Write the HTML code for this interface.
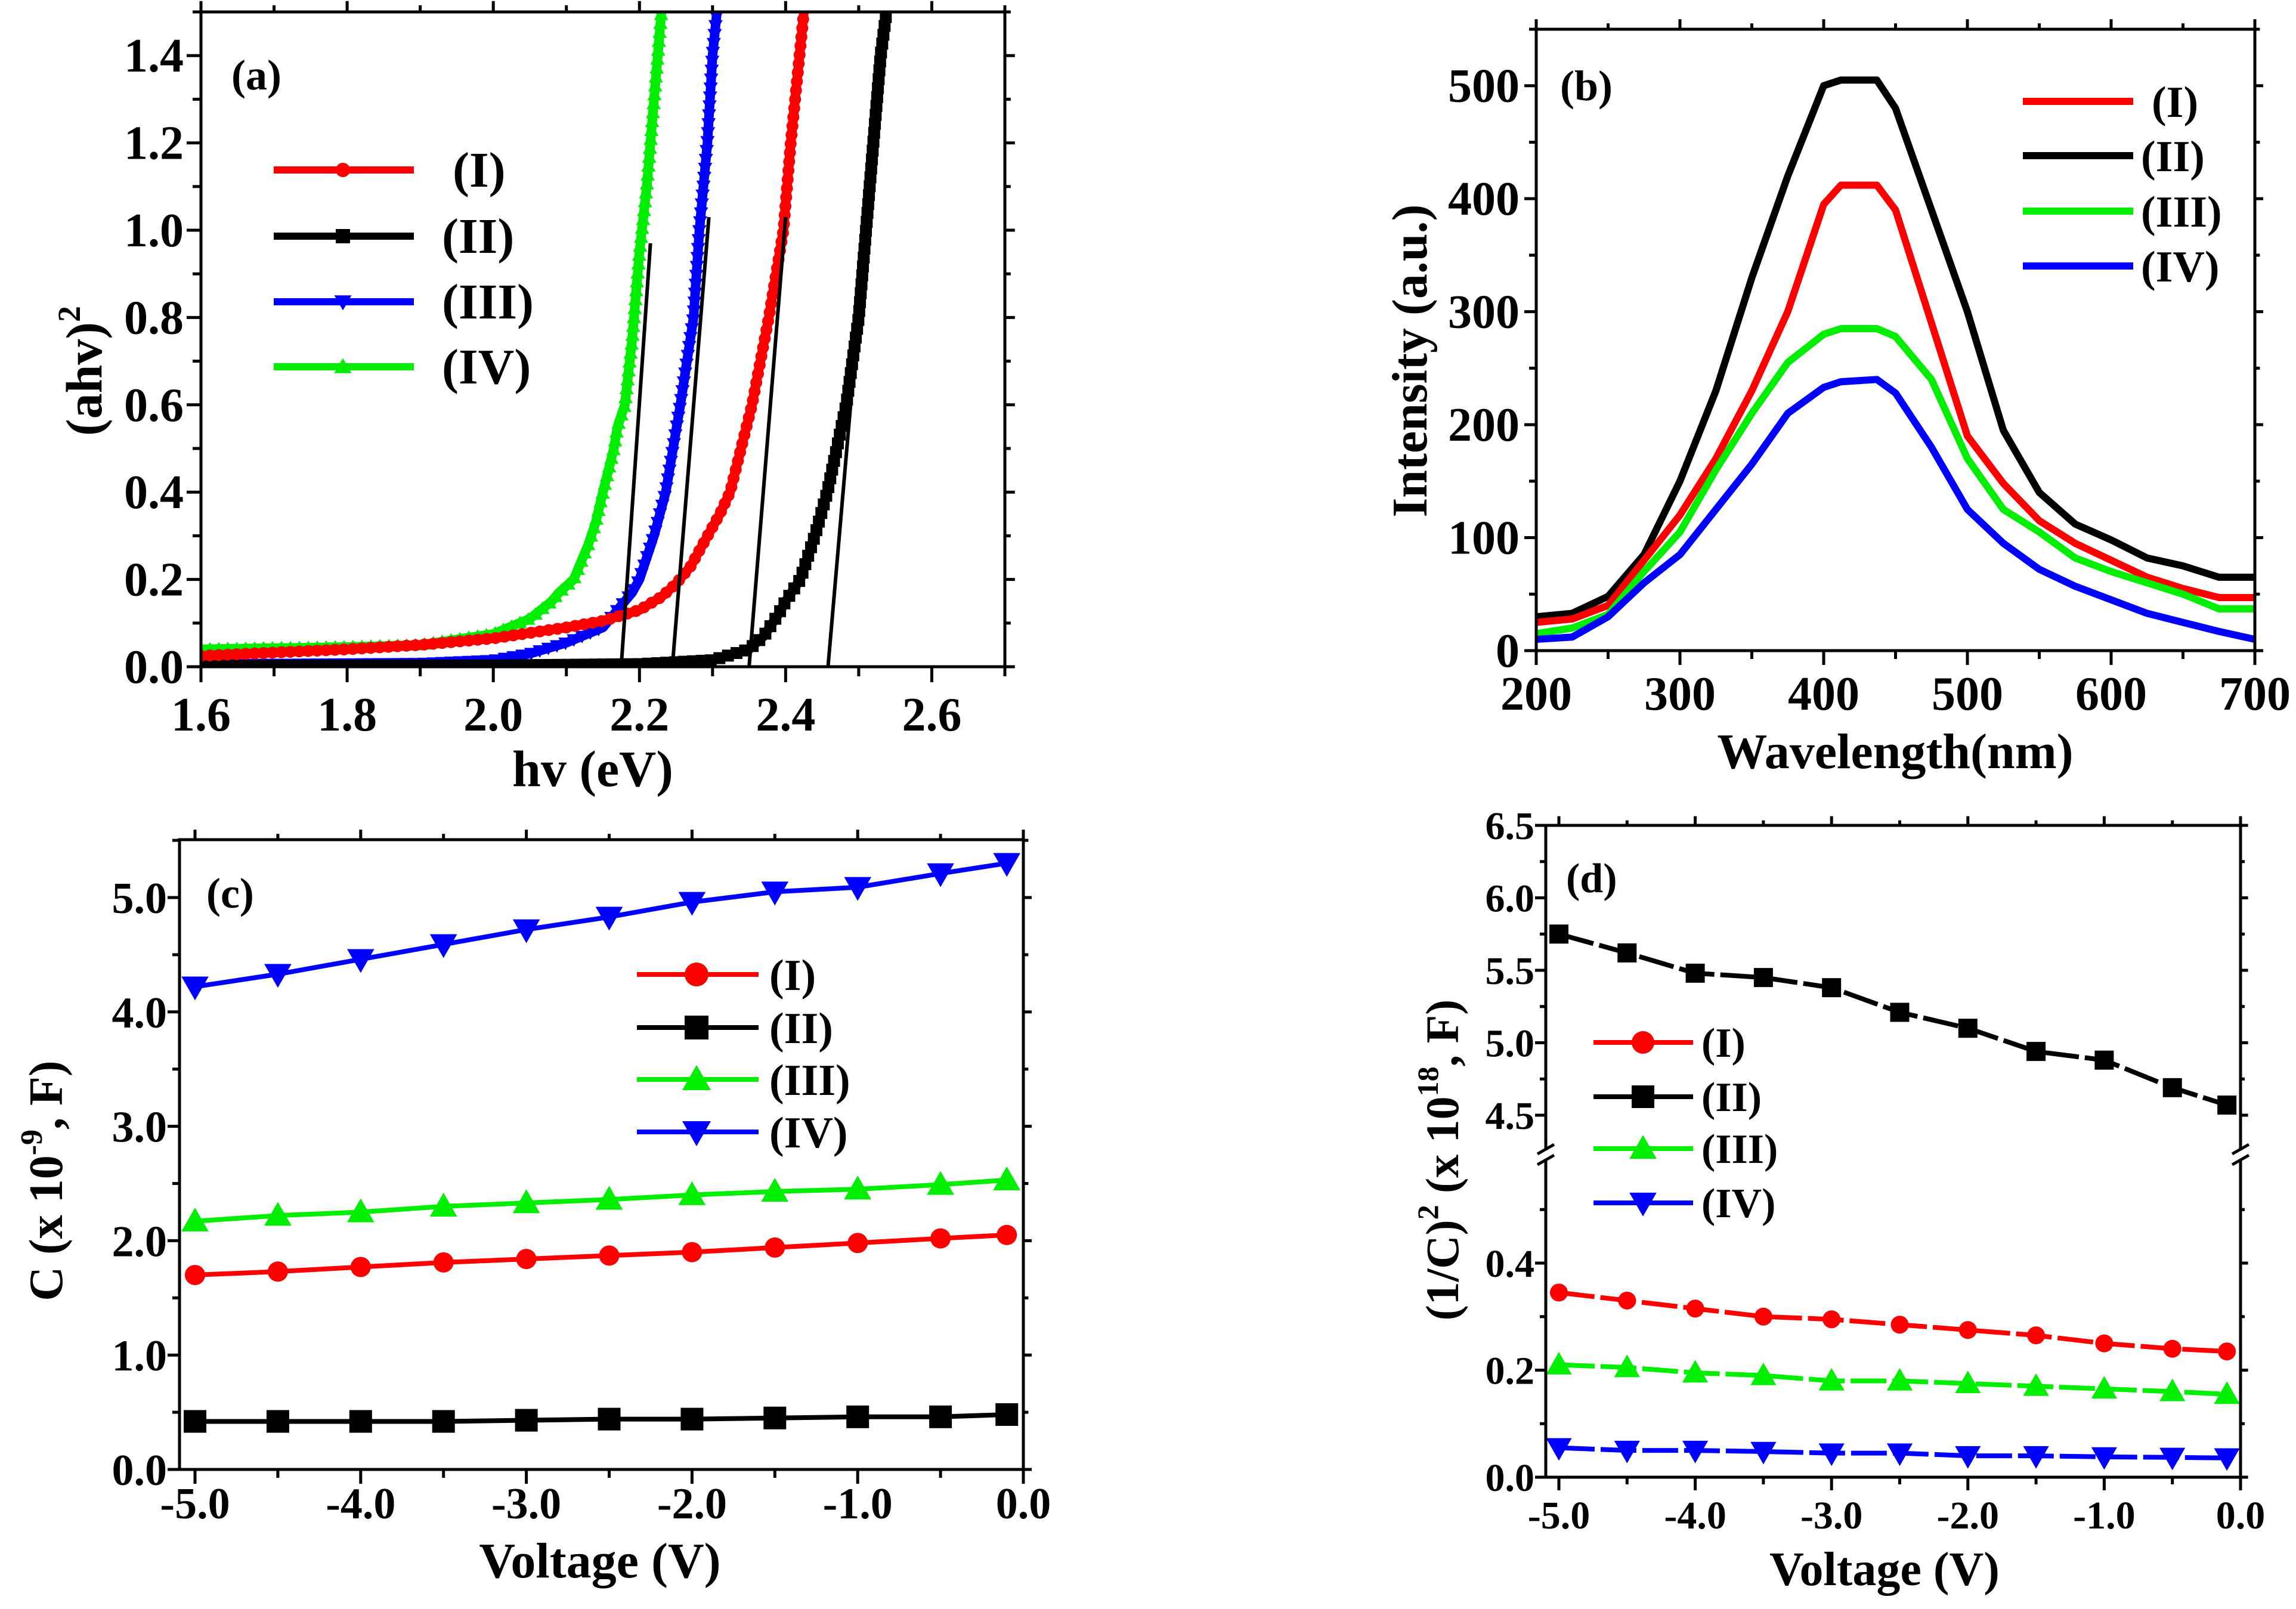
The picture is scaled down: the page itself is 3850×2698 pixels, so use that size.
<!DOCTYPE html>
<html><head><meta charset="utf-8"><style>
html,body{margin:0;padding:0;background:#fff;}
svg{display:block;}
text{font-family:"Liberation Serif",serif;font-weight:bold;fill:#000;}
</style></head><body>
<svg id="root" xmlns="http://www.w3.org/2000/svg" width="3850" height="2698" viewBox="0 0 3850 2698">
<rect x="0" y="0" width="3850" height="2698" fill="#fff"/>
</svg>
<script>
// ---------- Panel (a) data ----------
const aIx=[1.6,1.8,1.9,2.0,2.1,2.15,2.2,2.23,2.25,2.27,2.28,2.3,2.31,2.324,2.354,2.377,2.397,2.407,2.419,2.425];
const aIy=[0.025,0.04,0.05,0.065,0.09,0.105,0.13,0.16,0.19,0.23,0.26,0.32,0.35,0.4,0.6,0.8,1.0,1.2,1.4,1.5];
const aIIx=[1.6,2.0,2.2,2.3,2.35,2.37,2.39,2.40,2.42,2.44,2.457,2.483,2.5,2.51,2.52,2.53,2.538];
const aIIy=[0.002,0.003,0.006,0.015,0.04,0.07,0.12,0.15,0.2,0.3,0.4,0.6,0.8,1.0,1.2,1.4,1.5];
const aIIIx=[1.6,1.9,2.0,2.05,2.1,2.15,2.17,2.19,2.2,2.22,2.236,2.256,2.274,2.282,2.293,2.3,2.306];
const aIIIy=[0.005,0.008,0.015,0.03,0.055,0.09,0.13,0.17,0.2,0.3,0.4,0.6,0.8,1.0,1.2,1.4,1.5];
const aIVx=[1.6,1.8,1.9,2.0,2.05,2.08,2.09,2.11,2.12,2.13,2.14,2.15,2.165,2.17,2.18,2.19,2.2,2.21,2.22,2.23];
const aIVy=[0.04,0.045,0.05,0.075,0.11,0.15,0.17,0.2,0.24,0.28,0.33,0.4,0.5,0.55,0.6,0.75,0.95,1.1,1.3,1.5];
const aFitX0=[2.175,2.245,2.35,2.458];
const aFitY0=[0,0,0,0];
const aFitX1=[2.215,2.295,2.40,2.525];
const aFitY1=[0.97,1.03,1.03,1.3];
const aXTicks=["1.6","1.8","2.0","2.2","2.4","2.6"];
const aYTicks=["0.0","0.2","0.4","0.6","0.8","1.0","1.2","1.4"];
// ---------- Panel (b) data ----------
const bX=[200,225,250,275,300,325,350,375,400,412,437,450,475,500,525,550,575,600,625,650,675,700];
const bI=[25,28,40,80,120,170,230,300,395,412,412,390,290,190,148,115,95,80,65,55,47,47];
const bII=[30,33,48,85,150,230,330,420,500,505,505,480,390,300,195,140,112,98,82,75,65,65];
const bIII=[15,20,32,70,105,160,210,255,280,285,285,278,240,170,125,105,82,70,60,50,37,37];
const bIV=[10,12,30,60,85,125,165,210,233,238,240,228,180,125,95,72,57,45,33,25,17,10];
const bXTicks=["200","300","400","500","600","700"];
const bYTicks=["0","100","200","300","400","500"];
// ---------- Panel (c) data ----------
const cV=[-5,-4.5,-4,-3.5,-3,-2.5,-2,-1.5,-1,-0.5,-0.1];
const cI=[1.70,1.73,1.77,1.81,1.84,1.87,1.90,1.94,1.98,2.02,2.05];
const cII=[0.42,0.42,0.42,0.42,0.43,0.44,0.44,0.45,0.46,0.46,0.48];
const cIII=[2.17,2.22,2.25,2.30,2.33,2.36,2.40,2.43,2.45,2.49,2.53];
const cIV=[4.22,4.33,4.46,4.59,4.72,4.83,4.96,5.05,5.09,5.21,5.30];
const cXTicks=["-5.0","-4.0","-3.0","-2.0","-1.0","0.0"];
const cYTicks=["0.0","1.0","2.0","3.0","4.0","5.0"];
// ---------- Panel (d) data ----------
const dV=[-5,-4.5,-4,-3.5,-3,-2.5,-2,-1.5,-1,-0.5,-0.1];
const dI=[0.345,0.33,0.315,0.30,0.295,0.285,0.275,0.265,0.25,0.24,0.235];
const dII=[5.75,5.62,5.48,5.45,5.38,5.21,5.10,4.94,4.88,4.69,4.57];
const dIII=[0.21,0.205,0.195,0.19,0.18,0.18,0.175,0.17,0.165,0.16,0.155];
const dIV=[0.055,0.05,0.05,0.048,0.045,0.045,0.04,0.04,0.038,0.037,0.036];
const dXTicks=["-5.0","-4.0","-3.0","-2.0","-1.0","0.0"];
const dYLowTicks=["0.0","0.2","0.4"];
const dYHighTicks=["4.5","5.0","5.5","6.0","6.5"];

const NS='http://www.w3.org/2000/svg';
const root=document.getElementById('root');
function mk(tag,attrs,parent){const e=document.createElementNS(NS,tag);for(const k in attrs)e.setAttribute(k,attrs[k]);(parent||root).appendChild(e);return e;}
function lin(d0,d1,p0,p1){return v=>p0+(v-d0)*(p1-p0)/(d1-d0);}
function txt(s,x,y,size,anchor,parent){const t=mk('text',{x:x,y:y,'font-size':size,'text-anchor':anchor||'middle'},parent);t.textContent=s;return t;}
function marker(shape,x,y,s,color,parent){
  let e;
  if(shape==='circle')e=mk('circle',{cx:x,cy:y,r:s/2,fill:color},parent);
  else if(shape==='square')e=mk('rect',{x:x-s/2,y:y-s/2,width:s,height:s,fill:color},parent);
  else if(shape==='up')e=mk('polygon',{points:`${x},${y-s*0.6} ${x-s*0.6},${y+s*0.45} ${x+s*0.6},${y+s*0.45}`,fill:color},parent);
  else e=mk('polygon',{points:`${x},${y+s*0.6} ${x-s*0.6},${y-s*0.45} ${x+s*0.6},${y-s*0.45}`,fill:color},parent);
  return e;
}
function frame(g,L,T,R,B,sw){mk('rect',{x:L,y:T,width:R-L,height:B-T,fill:'none',stroke:'#000','stroke-width':sw},g);}
function tickX(g,x,B,T,len,sw){mk('line',{x1:x,y1:B,x2:x,y2:B+len,stroke:'#000','stroke-width':sw},g);mk('line',{x1:x,y1:T,x2:x,y2:T-len*0.7,stroke:'#000','stroke-width':sw},g);}
function tickY(g,y,L,R,len,sw){mk('line',{x1:L,y1:y,x2:L-len,y2:y,stroke:'#000','stroke-width':sw},g);mk('line',{x1:R,y1:y,x2:R+len*0.7,y2:y,stroke:'#000','stroke-width':sw},g);}

// ================= Panel (a) =================
(function(){
  const g=mk('g',{});
  
  
  const L=337,R=1685,T=20,B=1118;
  const sx=lin(1.6,2.7,L,R), sy=lin(0,1.5,B,T);
  const clip=mk('clipPath',{id:'clipA'},g);mk('rect',{x:L,y:T,width:R-L,height:B-T},clip);
  const series=[[aIVx,aIVy,'#00ee00','up','iv'],[aIIIx,aIIIy,'#0000ff','down','iii'],[aIIx,aIIy,'#000','square','ii'],[aIx,aIy,'#ff0000','circle','i']];
  const plot=mk('g',{'clip-path':'url(#clipA)'},g);
  series.forEach(s=>{
    const sg=mk('g',{},plot);
    
    
    const pts=s[0].map((x,i)=>sx(x)+','+sy(s[1][i])).join(' ');
    const pl=mk('polyline',{points:pts,fill:'none',stroke:s[2],'stroke-width':16,'stroke-linejoin':'round'},sg);
    const len=pl.getTotalLength();
    for(let d=0;d<=len;d+=15){const p=pl.getPointAtLength(d);marker(s[3],p.x,p.y,20,s[2],sg);}
  });
  aFitX0.forEach((x0,i)=>{
    const f=mk('line',{x1:sx(x0),y1:sy(aFitY0[i]),x2:sx(aFitX1[i]),y2:sy(aFitY1[i]),stroke:'#000','stroke-width':6},plot);
    
    
  });
  frame(g,L,T,R,B,5);
  aXTicks.forEach(t=>{const v=parseFloat(t);tickX(g,sx(v),B,T,26,5);tickX(g,sx(v+0.1),B,T,16,5);
    const e=txt(t,sx(v),1225,80,'middle',g);});
  aYTicks.forEach(t=>{const v=parseFloat(t);tickY(g,sy(v),L,R,24,5);tickY(g,sy(v+0.1),L,R,14,5);
    const e=txt(t,308,sy(v)+27,80,'end',g);});
  const xt=txt('hv (eV)',994,1318,86,'middle',g);
  const yt=mk('text',{x:0,y:0,'font-size':86,'text-anchor':'middle',transform:'translate(170,622) rotate(-90)'},g);
  yt.innerHTML='(ahv)<tspan dy="-36" font-size="54">2</tspan>';
  
  const pl=txt('(a)',388,150,72,'start',g);
  const leg=[['(I)','#ff0000','circle',285,759],['(II)','#000','square',396,741],['(III)','#0000ff','down',506,741],['(IV)','#00ee00','up',615,741]];
  leg.forEach((l,i)=>{const lg=mk('g',{},g);
    
    mk('line',{x1:459,y1:l[3],x2:694,y2:l[3],stroke:l[1],'stroke-width':12},lg);
    marker(l[2],575,l[3],24,l[1],lg);txt(l[0],l[4],l[3]+28,84,'start',lg);});
})();

// ================= Panel (b) =================
(function(){
  const g=mk('g',{});
  
  
  const L=2576,R=3781,T=49,B=1091;
  const sx=lin(200,700,L,R), sy=lin(0,550,B,T);
  const series=[[bII,'#000','ii'],[bI,'#ff0000','i'],[bIII,'#00ee00','iii'],[bIV,'#0000ff','iv']];
  series.forEach(s=>{
    const p=mk('polyline',{points:bX.map((x,i)=>sx(x)+','+sy(s[0][i])).join(' '),fill:'none',stroke:s[1],'stroke-width':12,'stroke-linejoin':'round'},g);
    
  });
  frame(g,L,T,R,B,5);
  bXTicks.forEach(t=>{const v=parseFloat(t);tickX(g,sx(v),B,T,24,5);if(v<700)tickX(g,sx(v+50),B,T,14,5);
    const e=txt(t,sx(v),1190,80,'middle',g);});
  bYTicks.forEach(t=>{const v=parseFloat(t);tickY(g,sy(v),L,R,20,5);tickY(g,sy(v+50),L,R,12,5);
    const e=txt(t,2548,sy(v)+27,80,'end',g);});
  const xt=txt('Wavelength(nm)',3178,1288,84,'middle',g);
  const yt=mk('text',{x:0,y:0,'font-size':84,'text-anchor':'middle',transform:'translate(2392,605) rotate(-90)'},g);
  yt.textContent='Intensity (a.u.)';
  
  const pl=txt('(b)',2616,168,72,'start',g);
  const leg=[['(I)','#ff0000',170,3608],['(II)','#000',261,3590],['(III)','#00ee00',354,3590],['(IV)','#0000ff',446,3590]];
  leg.forEach((l,i)=>{const lg=mk('g',{},g);
    
    mk('line',{x1:3392,y1:l[2],x2:3577,y2:l[2],stroke:l[1],'stroke-width':12},lg);
    txt(l[0],l[3],l[2]+26,74,'start',lg);});
})();

// ================= Panel (c) =================
(function(){
  const g=mk('g',{});
  
  
  const L=301,R=1716,T=1408,B=2464;
  const sx=lin(-5,0,327,1716), sy=lin(0,5,B,1505);
  const series=[[cIV,'#0000ff','down','iv'],[cIII,'#00ee00','up','iii'],[cI,'#ff0000','circle','i'],[cII,'#000','square','ii']];
  series.forEach(s=>{const sg=mk('g',{},g);
    
    mk('polyline',{points:cV.map((x,i)=>sx(x)+','+sy(s[0][i])).join(' '),fill:'none',stroke:s[1],'stroke-width':8},sg);
    cV.forEach((x,i)=>marker(s[2],sx(x),sy(s[0][i]),s[2]==='circle'?34:38,s[1],sg));});
  frame(g,L,T,R,B,5);
  cXTicks.forEach(t=>{const v=parseFloat(t);tickX(g,sx(v),B,T,24,5);if(v<0)tickX(g,sx(v+0.5),B,T,14,5);
    const e=txt(t,sx(v),2546,74,'middle',g);});
  cYTicks.forEach(t=>{const v=parseFloat(t);tickY(g,sy(v),L,R,20,5);tickY(g,sy(v+0.5),L,R,12,5);
    const e=txt(t,280,sy(v)+26,74,'end',g);});
  const xt=txt('Voltage (V)',1006,2645,84,'middle',g);
  const yt=mk('text',{x:0,y:0,'font-size':80,'text-anchor':'middle',transform:'translate(104,1980) rotate(-90)'},g);
  yt.innerHTML='C (x 10<tspan dy="-34" font-size="52">-9</tspan><tspan dy="34">, F)</tspan>';
  
  const pl=txt('(c)',346,1522,72,'start',g);
  const leg=[['(I)','#ff0000','circle',1634],['(II)','#000','square',1723],['(III)','#00ee00','up',1810],['(IV)','#0000ff','down',1898]];
  leg.forEach((l,i)=>{const lg=mk('g',{},g);
    
    mk('line',{x1:1068,y1:l[3],x2:1272,y2:l[3],stroke:l[1],'stroke-width':8},lg);
    marker(l[2],1168,l[3],40,l[1],lg);txt(l[0],1290,l[3]+26,74,'start',lg);});
})();

// ================= Panel (d) =================
(function(){
  const g=mk('g',{});
  
  
  const L=2592,R=3757,T=1384,B=2477,BR=1937;
  const sx=lin(-5,0,2614,3757);
  const syL=lin(0,0.4,B,2118), syH=lin(4.5,6.5,1870,T);
  const low=[[dI,'#ff0000','circle','i'],[dIII,'#00ee00','up','iii'],[dIV,'#0000ff','down','iv']];
  const sgII=mk('g',{},g);
  
  mk('polyline',{points:dV.map((x,i)=>sx(x)+','+syH(dII[i])).join(' '),fill:'none',stroke:'#000','stroke-width':8,'stroke-dasharray':'60 10'},sgII);
  dV.forEach((x,i)=>marker('square',sx(x),syH(dII[i]),32,'#000',sgII));
  low.forEach(s=>{const sg=mk('g',{},g);
    
    mk('polyline',{points:dV.map((x,i)=>sx(x)+','+syL(s[0][i])).join(' '),fill:'none',stroke:s[1],'stroke-width':8,'stroke-dasharray':'60 10'},sg);
    dV.forEach((x,i)=>marker(s[2],sx(x),syL(s[0][i]),s[2]==='circle'?30:36,s[1],sg));});
  const st={stroke:'#000','stroke-width':5};
  mk('line',Object.assign({x1:L,y1:T,x2:R,y2:T},st),g);
  mk('line',Object.assign({x1:L,y1:B,x2:R,y2:B},st),g);
  [L,R].forEach(x=>{mk('line',Object.assign({x1:x,y1:T,x2:x,y2:BR-8},st),g);mk('line',Object.assign({x1:x,y1:BR+8,x2:x,y2:B},st),g);
    mk('line',Object.assign({x1:x-14,y1:BR-2,x2:x+14,y2:BR-18},st),g);mk('line',Object.assign({x1:x-14,y1:BR+16,x2:x+14,y2:BR},st),g);});
  dXTicks.forEach(t=>{const v=parseFloat(t);tickX(g,sx(v),B,T,22,5);if(v<0)tickX(g,sx(v+0.5),B,T,12,5);
    const e=txt(t,sx(v),2563,66,'middle',g);});
  dYLowTicks.forEach(t=>{const v=parseFloat(t);tickY(g,syL(v),L,R,18,5);tickY(g,syL(v+0.1),L,R,10,5);
    const e=txt(t,2573,syL(v)+23,66,'end',g);});
  dYHighTicks.forEach(t=>{const v=parseFloat(t);tickY(g,syH(v),L,R,18,5);if(v<6.5)tickY(g,syH(v+0.25),L,R,10,5);
    const e=txt(t,2573,syH(v)+23,66,'end',g);});
  const xt=txt('Voltage (V)',3160,2658,80,'middle',g);
  const yt=mk('text',{x:0,y:0,'font-size':78,'text-anchor':'middle',transform:'translate(2445,1945) rotate(-90)'},g);
  yt.innerHTML='(1/C)<tspan dy="-34" font-size="50">2</tspan><tspan dy="34"> (x 10</tspan><tspan dy="-34" font-size="50">18</tspan><tspan dy="34">, F)</tspan>';
  
  const pl=txt('(d)',2626,1496,70,'start',g);
  const leg=[['(I)','#ff0000','circle',1748],['(II)','#000','square',1839],['(III)','#00ee00','up',1926],['(IV)','#0000ff','down',2017]];
  leg.forEach((l,i)=>{const lg=mk('g',{},g);
    
    mk('line',{x1:2672,y1:l[3],x2:2839,y2:l[3],stroke:l[1],'stroke-width':8},lg);
    marker(l[2],2755,l[3],38,l[1],lg);txt(l[0],2853,l[3]+24,70,'start',lg);});
})();
</script>
</body></html>
